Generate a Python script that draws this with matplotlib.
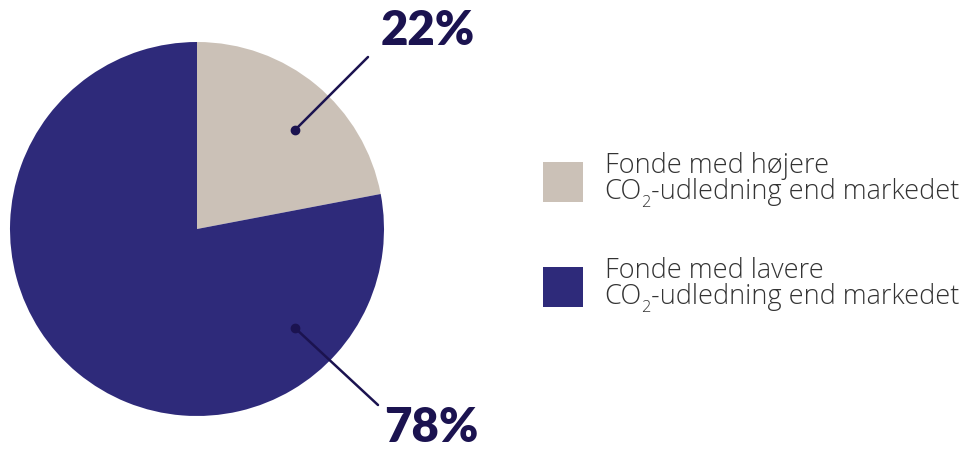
import matplotlib
matplotlib.use("Agg")
import matplotlib.pyplot as plt

line1 = ["Fonde med højere", "Fonde med lavere"]
line2_parts = ["CO", "2", "-udledning end markedet"]
values = [22, 78]
pct_labels = ["22%", "78%"]
colors = ["#CBC1B7", "#2E2A7A"]

W, H = 966, 449
fig = plt.figure(figsize=(W / 100, H / 100), dpi=100)
ax = fig.add_axes([0, 0, 1, 1])

cx, cy, r = 197, H - 229, 187
ax.pie(values, colors=colors, startangle=90, counterclock=False,
       center=(cx, cy), radius=r, wedgeprops=dict(linewidth=0))
ax.set_xlim(0, W)
ax.set_ylim(0, H)
ax.set_aspect("equal")
ax.axis("off")

navy = "#1B1350"
dots = [(295, H - 130), (295, H - 328)]
ends = [(368, H - 57), (378, H - 405)]
txt_pos = [(428, H - 31), (431, H - 428)]
for d, e, t, s in zip(dots, ends, txt_pos, pct_labels):
    ax.plot([d[0], e[0]], [d[1], e[1]], color=navy, lw=1.8, solid_capstyle="round")
    ax.plot(d[0], d[1], "o", color=navy, ms=6)
    ax.text(t[0], t[1], s, ha="center", va="center", fontsize=34,
            fontweight="heavy", family="Lato", color=navy)

renderer = fig.canvas.get_renderer()
fs = 19.5
tc = "#333333"
sq_y = [162, 267]
for i, c in enumerate(colors):
    ax.add_patch(plt.Rectangle((543, H - sq_y[i] - 40), 40, 40, color=c, lw=0))
    base = 173 + 105 * i
    ax.text(605, H - base, line1[i], ha="left", va="baseline", fontsize=fs,
            family="Open Sans", fontweight="light", color=tc)
    y2 = H - base - 26
    t = ax.text(604, y2, line2_parts[0], ha="left", va="baseline", fontsize=fs,
                family="Open Sans", fontweight="light", color=tc)
    x = t.get_window_extent(renderer).x1
    t = ax.text(x, y2 - 8, line2_parts[1], ha="left", va="baseline", fontsize=fs * 0.6,
                family="Open Sans", fontweight="light", color=tc)
    x = t.get_window_extent(renderer).x1
    ax.text(x, y2, line2_parts[2], ha="left", va="baseline", fontsize=fs,
            family="Open Sans", fontweight="light", color=tc)

fig.savefig("out.png", dpi=100)
